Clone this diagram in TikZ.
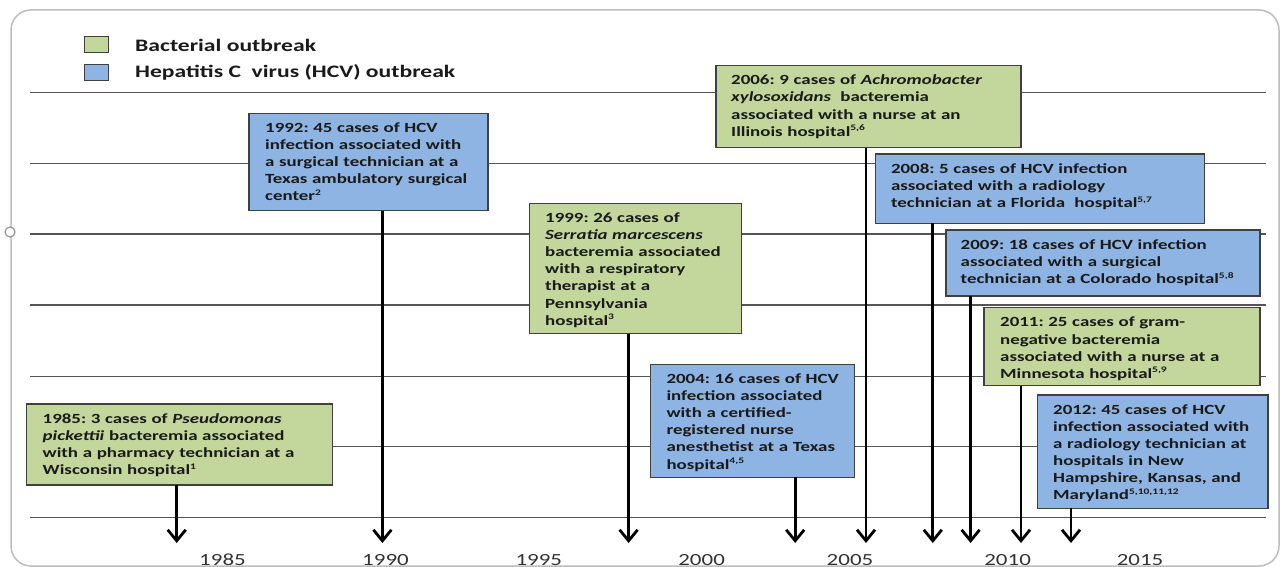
\documentclass[tikz,border=0pt]{standalone}
\usepackage{fontspec}
\setmainfont{Carlito}[FakeStretch=1.35]
\usetikzlibrary{arrows.meta}
\definecolor{gfill}{HTML}{C3D69B}
\definecolor{bfill}{HTML}{8EB4E3}
\definecolor{edge}{HTML}{404040}
\definecolor{gridc}{HTML}{555555}
\definecolor{frm}{HTML}{BDBDBD}
\definecolor{ink}{HTML}{1A1A1A}
\definecolor{yrc}{HTML}{333333}
\newcommand{\supr}[1]{\textsuperscript{\fontsize{8.5pt}{9pt}\selectfont #1}}
\begin{document}
\frenchspacing
\begin{tikzpicture}[x=1pt,y=-1pt,
  boxbase/.style={draw=edge, line width=1.3pt, anchor=north west, inner sep=0pt, outer sep=0pt, rectangle},
  gbox/.style={boxbase, fill=gfill},
  bbox/.style={boxbase, fill=bfill},
  txt/.style={anchor=base west, inner sep=0pt, text width=320pt, align=left,
    font=\fontsize{14pt}{17.1pt}\selectfont\bfseries\frenchspacing, text=ink},
  lgt/.style={anchor=base west, inner sep=0pt, font=\fontsize{17.5pt}{21pt}\selectfont\bfseries, text=ink},
  gline/.style={draw=gridc, line width=1.4pt},
  arr/.style={draw=black, line width=2.8pt, -{Straight Barb[length=11pt,width=18pt]}},
  yr/.style={anchor=base, inner sep=0pt, font=\fontsize{17pt}{20pt}\selectfont, text=yrc}
]
\useasboundingbox (0,0) rectangle (1284,567);
\fill[white] (0,0) rectangle (1284,567);
% frame
\draw[frm, line width=1.5pt, rounded corners=20pt] (11,10) rectangle (1279,566);
\draw[frm!80!black, line width=1.2pt, fill=white] (10,232) circle (5pt);
% grid lines
\foreach \yy in {92.7,163.4,234.1,304.8,376.2,446.5,517.5}
  \draw[gline] (30,\yy) -- (1266,\yy);
% legend
\node[gbox, line width=1pt, minimum width=24pt, minimum height=16pt] (lgg) at (84,36.7) {};
\node[bbox, line width=1pt, minimum width=24pt, minimum height=16pt] (lgb) at (84,64.3) {};
\node[lgt] (lgtg) at (135,51.7) {Bacterial outbreak};
\node[lgt] (lgtb) at (135,77.3) {Hepatitis C\ \ virus (HCV) outbreak};
% boxes
\node[gbox, minimum width=306.2pt, minimum height=81pt] (b1985) at (26.5,404) {};
\node[bbox, minimum width=239pt, minimum height=97.4pt] (b1992) at (249,113.3) {};
\node[gbox, minimum width=212.3pt, minimum height=130.2pt] (b1999) at (529.5,203.3) {};
\node[bbox, minimum width=204.5pt, minimum height=113pt] (b2004) at (650.3,364.3) {};
\node[gbox, minimum width=305pt, minimum height=82pt] (b2006) at (716,65.7) {};
\node[bbox, minimum width=329.4pt, minimum height=69.3pt] (b2008) at (875.3,154) {};
\node[bbox, minimum width=314pt, minimum height=66pt] (b2009) at (946,230) {};
\node[gbox, minimum width=276pt, minimum height=78pt] (b2011) at (984,307.7) {};
\node[bbox, minimum width=230.5pt, minimum height=113.3pt] (b2012) at (1037.5,395) {};
% texts
\node[txt] (t1985) at ([xshift=16pt,yshift=-19.2pt]b1985.north west)
 {1985: 3 cases of \textit{Pseudomonas}\\ \textit{pickettii} bacteremia associated\\ with a pharmacy technician at a\\ Wisconsin hospital\supr{1}};
\node[txt] (t1992) at ([xshift=16pt,yshift=-19.2pt]b1992.north west)
 {1992: 45 cases of HCV\\ infection associated with\\ a surgical technician at a\\ Texas ambulatory surgical\\ center\supr{2}};
\node[txt] (t1999) at ([xshift=15.5pt,yshift=-19.2pt]b1999.north west)
 {1999: 26 cases of\\ \textit{Serratia marcescens}\\ bacteremia associated\\ with a respiratory\\ therapist at a\\ Pennsylvania\\ hospital\supr{3}};
\node[txt] (t2004) at ([xshift=16pt,yshift=-19.2pt]b2004.north west)
 {2004: 16 cases of HCV\\ infection associated\\ with a certified-\\ registered nurse\\ anesthetist at a Texas\\ hospital\supr{4,5}};
\node[txt] (t2006) at ([xshift=15pt,yshift=-19.2pt]b2006.north west)
 {2006: 9 cases of \textit{Achromobacter}\\ \textit{xylosoxidans}\ \ bacteremia\\ associated with a nurse at an\\ Illinois hospital\supr{5,6}};
\node[txt] (t2008) at ([xshift=15.5pt,yshift=-19.2pt]b2008.north west)
 {2008: 5 cases of HCV infection\\ associated with a radiology\\ technician at a Florida\ \ hospital\supr{5,7}};
\node[txt] (t2009) at ([xshift=14.5pt,yshift=-19.2pt]b2009.north west)
 {2009: 18 cases of HCV infection\\ associated with a surgical\\ technician at a Colorado hospital\supr{5,8}};
\node[txt] (t2011) at ([xshift=16pt,yshift=-19.2pt]b2011.north west)
 {2011: 25 cases of gram-\\ negative bacteremia\\ associated with a nurse at a\\ Minnesota hospital\supr{5,9}};
\node[txt] (t2012) at ([xshift=15.5pt,yshift=-19.2pt]b2012.north west)
 {2012: 45 cases of HCV\\ infection associated with\\ a radiology technician at\\ hospitals in New\\ Hampshire, Kansas, and\\ Maryland\supr{5,10,11,12}};
% arrow ends
\coordinate (e1985) at (176.7,543);
\coordinate (e1992) at (382.4,543);
\coordinate (e1999) at (628.6,543);
\coordinate (e2004) at (795.2,543);
\coordinate (e2006) at (866,543);
\coordinate (e2008) at (932.8,543);
\coordinate (e2009) at (970.6,543);
\coordinate (e2011) at (1021,543);
\coordinate (e2012) at (1071,543);
\foreach \k in {1985,1992,1999,2004,2006,2008,2009,2011,2012}
  \draw[arr] (b\k.south -| e\k) -- (e\k);
% year labels
\node[yr] (l1985) at (222.5,565) {1985};
\node[yr] (l1990) at (385.5,565) {1990};
\node[yr] (l1995) at (538.8,565) {1995};
\node[yr] (l2000) at (701.6,565) {2000};
\node[yr] (l2005) at (850,565) {2005};
\node[yr] (l2010) at (1007.6,565) {2010};
\node[yr] (l2015) at (1140,565) {2015};
\end{tikzpicture}
\end{document}
